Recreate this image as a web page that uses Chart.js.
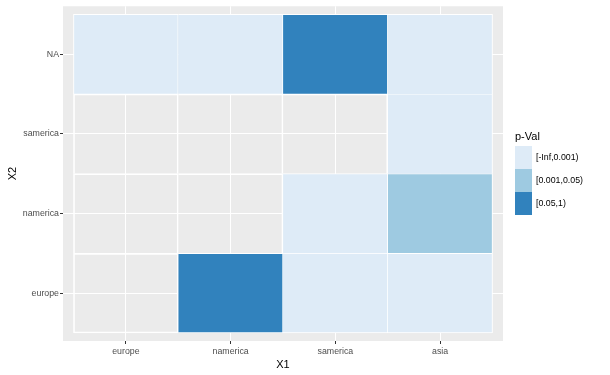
<!DOCTYPE html>
<html>
<head>
<meta charset="utf-8">
<script src="https://cdn.jsdelivr.net/npm/chart.js@4"></script>
<style>
  html, body { margin: 0; padding: 0; background: #fff; }
  #wrap { width: 610px; height: 375px; position: relative; }
</style>
</head>
<body>
<div id="wrap"><canvas id="heat"></canvas></div>
<script>
// categories on each axis (bottom to top for X2)
const x1Cats = ['europe', 'namerica', 'samerica', 'asia'];
const x2Cats = ['europe', 'namerica', 'samerica', 'NA'];

// p-value bins, index into binLabels (null = no value)
const binLabels = ['[-Inf,0.001)', '[0.001,0.05)', '[0.05,1)'];
const rowEurope   = [null, 2, 0, 0];
const rowNamerica = [null, null, 0, 1];
const rowSamerica = [null, null, null, 0];
const rowNA       = [0, 0, 2, 0];
const cellRows = [rowEurope, rowNamerica, rowSamerica, rowNA];

const binColors = ['#DEEBF7', '#9ECAE1', '#3182BD'];
const panelBg = '#EBEBEB';
const FONT = "'Liberation Sans', Arial, sans-serif";

// build one dataset per bin, plus the empty tiles
function cellsFor(bin) {
  const out = [];
  cellRows.forEach((row, j) => {
    row.forEach((b, i) => {
      if (b === bin) out.push({ x: i, y: [j - 0.5, j + 0.5] });
    });
  });
  return out;
}

// white tile outline, drawn once between neighbours
function tileBorder(ctx) {
  const c = ctx.raw || { x: 1, y: [1, 2] };
  return {
    top: 1,
    right: 1,
    left: c.x === 0 ? 1 : 0,
    bottom: c.y[0] < 0 ? 1 : 0
  };
}

const datasets = [{
  label: 'empty',
  data: cellsFor(null),
  backgroundColor: 'rgba(0,0,0,0)',
  borderColor: '#FFFFFF',
  borderWidth: tileBorder,
  borderSkipped: false
}];
binLabels.forEach((lab, k) => {
  datasets.push({
    label: lab,
    data: cellsFor(k),
    backgroundColor: binColors[k],
    borderColor: '#FFFFFF',
    borderWidth: tileBorder,
    borderSkipped: false
  });
});

// grey panel behind the grid
const panelPlugin = {
  id: 'panel',
  beforeDraw(chart) {
    const a = chart.chartArea;
    const ctx = chart.ctx;
    ctx.save();
    ctx.fillStyle = panelBg;
    ctx.fillRect(a.left, a.top, a.right - a.left, a.bottom - a.top);
    ctx.restore();
  }
};

// ggplot-style legend with stacked keys
const keyLegend = {
  id: 'keyLegend',
  afterDraw(chart) {
    const ctx = chart.ctx;
    const left = chart.chartArea.right + 12;
    const top = 146;
    const kw = 17, kh = 23;
    ctx.save();
    ctx.fillStyle = '#000';
    ctx.font = '11px ' + FONT;
    ctx.textBaseline = 'middle';
    ctx.textAlign = 'left';
    ctx.fillText('p-Val', left, 137);
    ctx.font = '8.8px ' + FONT;
    binLabels.forEach((lab, k) => {
      const y = top + k * kh;
      ctx.fillStyle = binColors[k];
      ctx.fillRect(left, y, kw, kh);
      ctx.fillStyle = '#000';
      ctx.fillText(lab, left + kw + 4, y + kh / 2);
    });
    ctx.restore();
  }
};

const tickFont = { family: FONT, size: 8.8 };
const titleFont = { family: FONT, size: 11 };

new Chart(document.getElementById('heat'), {
  type: 'bar',
  data: { datasets: datasets },
  options: {
    responsive: true,
    maintainAspectRatio: false,
    animation: false,
    grouped: false,
    barPercentage: 1,
    categoryPercentage: 1,
    layout: { padding: { top: 5, right: 107, left: 0, bottom: 0 } },
    plugins: {
      legend: { display: false },
      tooltip: { enabled: false }
    },
    scales: {
      x: {
        type: 'linear',
        min: -0.6,
        max: 3.6,
        offset: false,
        afterBuildTicks: (s) => { s.ticks = x1Cats.map((c, i) => ({ value: i })); },
        afterFit: (s) => { s.height = 34; },
        ticks: {
          callback: (v) => x1Cats[v],
          color: '#4D4D4D',
          font: tickFont,
          padding: 2,
          maxRotation: 0,
          autoSkip: false
        },
        grid: {
          offset: false,
          color: '#FFFFFF',
          lineWidth: 1,
          tickColor: '#333333',
          tickLength: 3
        },
        border: { display: false },
        title: {
          display: true,
          text: 'X1',
          color: '#000',
          font: titleFont,
          padding: { top: 0, bottom: 3 }
        }
      },
      y: {
        type: 'linear',
        min: -0.6,
        max: 3.6,
        afterBuildTicks: (s) => { s.ticks = x2Cats.map((c, i) => ({ value: i })); },
        afterFit: (s) => { s.width = 63; },
        ticks: {
          callback: (v) => x2Cats[v],
          color: '#4D4D4D',
          font: tickFont,
          padding: 1,
          autoSkip: false
        },
        grid: {
          color: '#FFFFFF',
          lineWidth: 1,
          tickColor: '#333333',
          tickLength: 3
        },
        border: { display: false },
        title: {
          display: true,
          text: 'X2',
          color: '#000',
          font: titleFont,
          padding: { top: 6, bottom: 0 }
        }
      }
    }
  },
  plugins: [panelPlugin, keyLegend]
});
</script>
</body>
</html>
